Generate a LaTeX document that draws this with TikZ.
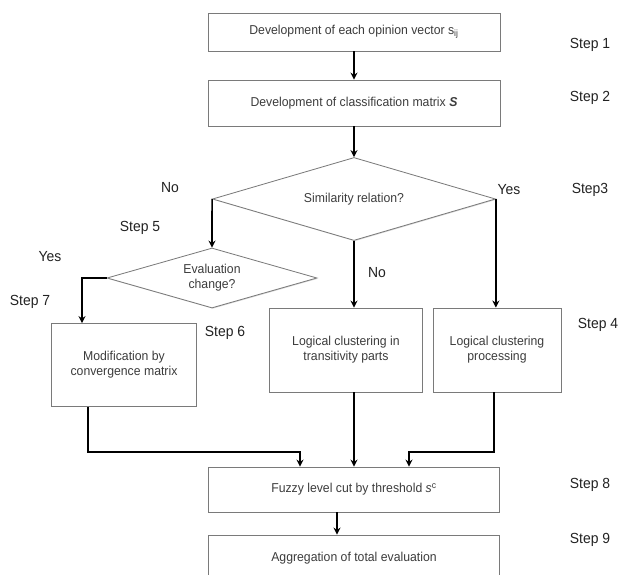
\documentclass[tikz,border=0pt]{standalone}
\usepackage{fontspec}
\setmainfont{Liberation Sans}[FakeStretch=0.95]
\usetikzlibrary{shapes.geometric,arrows.meta,shadows}
\definecolor{boxline}{HTML}{7A7A7A}
\definecolor{boxtext}{HTML}{3C3C3C}
\definecolor{steptext}{HTML}{222222}
\tikzset{
    stepbox/.style={draw=boxline, line width=0.7pt, fill=white, text=boxtext,
        align=center, font=\fontsize{11}{13}\selectfont,
        drop shadow={shadow xshift=0.7pt, shadow yshift=-0.7pt, opacity=0.3}},
    decision/.style={stepbox, diamond, aspect=3.4, inner sep=0pt},
    steplabel/.style={text=steptext, font=\fontsize{12.5}{14}\selectfont},
    arr/.style={draw=black, line width=1.4pt, -{Stealth[length=6pt,width=6pt]}}
}
\begin{document}
\begin{tikzpicture}[x=0.3mm, y=-0.3mm]
    \useasboundingbox (0,0) rectangle (621,575);
    \clip (0,0) rectangle (621,575);

    % boxes
    \node[stepbox, minimum width=87.6mm, minimum height=11.4mm] (opinion) at (354,32)
        {Development of each opinion vector s\textsubscript{ij}};
    \node[stepbox, minimum width=87.6mm, minimum height=13.8mm] (classif) at (354,103)
        {Development of classification matrix \textbf{\textit{S}}};
    \node[decision, minimum width=84.9mm, minimum height=24.9mm] (simil) at (354,199)
        {Similarity relation?};
    \node[decision, minimum width=63mm, minimum height=18mm] (evalch) at (212,278)
        {Evaluation\\change?};
    \node[stepbox, minimum width=43.5mm, minimum height=24.9mm] (modif) at (124,365)
        {Modification by\\convergence matrix};
    \node[stepbox, minimum width=45.9mm, minimum height=25.2mm] (trans) at (346,350)
        {Logical clustering in\\transitivity parts};
    \node[stepbox, minimum width=38.4mm, minimum height=25.2mm] (proc) at (497,350)
        {Logical clustering\\processing};
    \node[stepbox, minimum width=87.3mm, minimum height=13.5mm] (fuzzy) at (354,489.5)
        {Fuzzy level cut by threshold \textit{s}\textsuperscript{c}};
    \node[stepbox, minimum width=87.3mm, minimum height=13.8mm] (aggr) at (354,558)
        {Aggregation of total evaluation};

    % step labels
    \node[steplabel] (s1) at (590,45) {Step 1};
    \node[steplabel] (s2) at (590,98) {Step 2};
    \node[steplabel] (s3) at (590,190) {Step3};
    \node[steplabel] (s5) at (140,228) {Step 5};
    \node[steplabel] (s7) at (30,302) {Step 7};
    \node[steplabel] (s6) at (225,333) {Step 6};
    \node[steplabel] (s4) at (598,325) {Step 4};
    \node[steplabel] (s8) at (590,485) {Step 8};
    \node[steplabel] (s9) at (590,540) {Step 9};

    % branch labels
    \node[steplabel] (no1) at (170,188) {No};
    \node[steplabel] (yes1) at (509,190) {Yes};
    \node[steplabel] (yes2) at (50,257) {Yes};
    \node[steplabel] (no2) at (377,273) {No};

    % junction points
    \coordinate (jl) at (300,452);
    \coordinate (jr) at (409,452);

    % connectors
    \draw[arr] (opinion) -- (classif);
    \draw[arr] (classif) -- (simil);
    \draw[arr] (simil.west) -- (evalch.north);
    \draw[arr] (evalch.west) -| ([xshift=-12.6mm]modif.north);
    \draw[arr] (simil.south) -- (simil.south |- trans.north);
    \draw[arr] (simil.east) -- (simil.east |- proc.north);
    \draw[arr] ([xshift=-10.8mm]modif.south) |- (jl) -- (jl |- fuzzy.north);
    \draw[arr] (fuzzy.north |- trans.south) -- (fuzzy.north);
    \draw[arr] ([xshift=-0.9mm]proc.south) |- (jr) -- (jr |- fuzzy.north);
    \draw[arr] ([xshift=-5.1mm]fuzzy.south) -- ([xshift=-5.1mm]aggr.north);
\end{tikzpicture}
\end{document}
